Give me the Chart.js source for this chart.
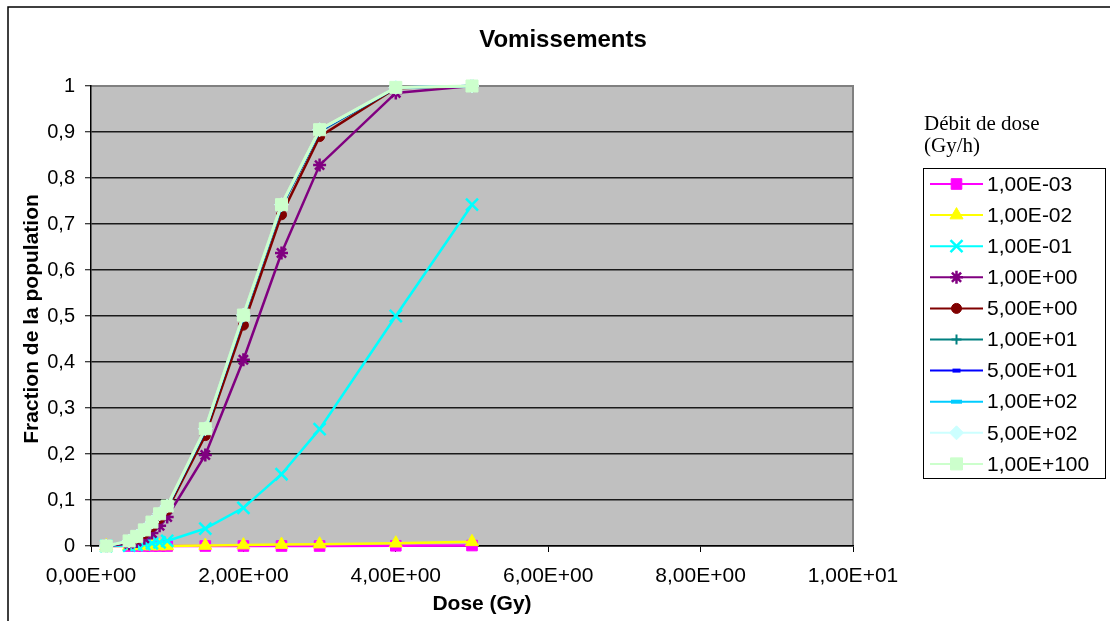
<!DOCTYPE html>
<html>
<head>
<meta charset="utf-8">
<title>Vomissements</title>
<script src="https://cdn.jsdelivr.net/npm/chart.js@4.4.1/dist/chart.umd.min.js"></script>
<style>
  html, body { margin: 0; padding: 0; background: #ffffff; }
  #wrap { width: 1110px; height: 621px; }
</style>
</head>
<body>
<div id="wrap"><canvas id="vomChart" width="1110" height="621"></canvas></div>
<script>
// Doses (Gy) shared by every dose-rate series
const doses = [0.2, 0.5, 0.6, 0.7, 0.8, 0.9, 1.0, 1.5, 2, 2.5, 3, 4, 5];

// Fraction of population with vomiting, one array per dose rate (Gy/h)
const rate1em3 = [0, 0, 0, 0, 0, 0, 0, 0, 0, 0, 0, 0.0005, 0.001];
const rate1em2 = [0, 0, 0, 0, 0, 0, 0, 0.001, 0.002, 0.003, 0.004, 0.006, 0.009];
const rate1em1 = [0, 0.001, 0.002, 0.004, 0.006, 0.008, 0.011, 0.038, 0.083, 0.156, 0.254, 0.5, 0.742];
const rate1e0 = [0, 0.005, 0.01, 0.017, 0.028, 0.044, 0.063, 0.198, 0.405, 0.637, 0.828, 0.985, 1.0];
const rate5e0 = [0, 0.008, 0.016, 0.027, 0.042, 0.06, 0.078, 0.24, 0.48, 0.72, 0.89, 0.995, 1.0];
const rate1e1 = [0, 0.01, 0.02, 0.033, 0.05, 0.067, 0.084, 0.251, 0.497, 0.737, 0.901, 0.996, 1.0];
const rate5e1 = [0, 0.01, 0.02, 0.034, 0.051, 0.068, 0.085, 0.253, 0.5, 0.74, 0.903, 0.997, 1.0];
const rate1e2 = [0, 0.011, 0.021, 0.034, 0.051, 0.069, 0.086, 0.254, 0.501, 0.741, 0.904, 0.997, 1.0];
const rate5e2 = [0, 0.011, 0.021, 0.035, 0.052, 0.07, 0.087, 0.255, 0.502, 0.742, 0.905, 0.997, 1.0];
const rate1e100 = [0, 0.011, 0.021, 0.035, 0.052, 0.07, 0.087, 0.255, 0.502, 0.742, 0.905, 0.997, 1.0];

const seriesLabels = ['1,00E-03', '1,00E-02', '1,00E-01', '1,00E+00', '5,00E+00',
                      '1,00E+01', '5,00E+01', '1,00E+02', '5,00E+02', '1,00E+100'];
const seriesValues = [rate1em3, rate1em2, rate1em1, rate1e0, rate5e0,
                      rate1e1, rate5e1, rate1e2, rate5e2, rate1e100];

// Look of each series: line colour, marker shape and marker size
const seriesStyles = [
    { color: '#ff00ff', fill: '#ff00ff', shape: 'rect',      r: 7.5, bw: 1 },
    { color: '#ffff00', fill: '#ffff00', shape: 'triangle',  r: 7.5, bw: 1 },
    { color: '#00ffff', fill: '#00ffff', shape: 'crossRot',  r: 8.5, bw: 2.5 },
    { color: '#800080', fill: '#800080', shape: 'star',      r: 6.5, bw: 2.5 },
    { color: '#800000', fill: '#800000', shape: 'circle',    r: 5,   bw: 1 },
    { color: '#008080', fill: '#008080', shape: 'cross',     r: 5,   bw: 2 },
    { color: '#0000ff', fill: '#0000ff', shape: 'line',      r: 4,   bw: 4 },
    { color: '#00ccff', fill: '#00ccff', shape: 'line',      r: 5.5, bw: 4 },
    { color: '#ccffff', fill: '#ccffff', shape: 'rectRot',   r: 7,   bw: 1 },
    { color: '#ccffcc', fill: '#ccffcc', shape: 'rect',      r: 8.5, bw: 1 }
];

const FONT = "'Liberation Sans', Arial, sans-serif";
const SERIF = "'Liberation Serif', 'Times New Roman', serif";

function sciLabel(v) {
    // 2 -> "2,00E+00"
    const parts = Number(v).toExponential(2).split('e');
    let exp = parseInt(parts[1], 10);
    const sign = exp < 0 ? '-' : '+';
    exp = Math.abs(exp);
    return parts[0].replace('.', ',') + 'E' + sign + (exp < 10 ? '0' + exp : exp);
}

const datasets = seriesValues.map((vals, i) => {
    const s = seriesStyles[i];
    return {
        label: seriesLabels[i],
        data: vals.map((y, k) => ({ x: doses[k], y: y })),
        showLine: true,
        borderColor: s.color,
        borderWidth: i === 9 ? 3 : 2.5,
        backgroundColor: s.fill,
        pointStyle: s.shape,
        pointRadius: s.r,
        pointHoverRadius: s.r,
        pointBorderColor: s.color,
        pointBackgroundColor: s.fill,
        pointBorderWidth: s.bw,
        tension: 0,
        clip: false,
        // later series sit on top
        order: seriesValues.length - 1 - i
    };
});

// Frame, plot background, titles and the side legend
const sheetFrame = {
    id: 'sheetFrame',
    beforeDraw(chart) {
        const ctx = chart.ctx;
        const a = chart.chartArea;
        ctx.save();
        ctx.fillStyle = '#ffffff';
        ctx.fillRect(0, 0, chart.width, chart.height);
        ctx.strokeStyle = '#000000';
        ctx.lineWidth = 1.5;
        ctx.strokeRect(8, 7, chart.width + 10, chart.height + 10);
        ctx.fillStyle = '#c0c0c0';
        ctx.fillRect(a.left, a.top, a.right - a.left, a.bottom - a.top);
        ctx.strokeStyle = '#808080';
        ctx.lineWidth = 2;
        ctx.beginPath();
        ctx.moveTo(a.left, a.top);
        ctx.lineTo(a.right, a.top);
        ctx.lineTo(a.right, a.bottom);
        ctx.stroke();
        ctx.restore();
    },
    afterDraw(chart) {
        const ctx = chart.ctx;
        ctx.save();
        ctx.fillStyle = '#000000';
        ctx.textAlign = 'center';
        ctx.textBaseline = 'middle';

        ctx.font = 'bold 24px ' + FONT;
        ctx.fillText('Vomissements', 563, 40);

        ctx.font = 'bold 21px ' + FONT;
        ctx.fillText('Dose (Gy)', 482, 604);

        ctx.save();
        ctx.translate(32, 319);
        ctx.rotate(-Math.PI / 2);
        ctx.fillText('Fraction de la population', 0, 0);
        ctx.restore();

        // legend title
        ctx.textAlign = 'left';
        ctx.textBaseline = 'alphabetic';
        ctx.font = '21px ' + SERIF;
        ctx.fillText('Débit de dose', 924, 130);
        ctx.fillText('(Gy/h)', 924, 152);

        // legend box
        ctx.strokeStyle = '#000000';
        ctx.lineWidth = 1;
        ctx.strokeRect(923.5, 168.5, 182, 310);

        ctx.font = '21px ' + FONT;
        ctx.textBaseline = 'middle';
        chart.data.datasets.forEach((ds, i) => {
            const y = 184 + i * 31.1;
            ctx.strokeStyle = ds.borderColor;
            ctx.lineWidth = 2;
            ctx.beginPath();
            ctx.moveTo(930, y);
            ctx.lineTo(983, y);
            ctx.stroke();
            ctx.fillStyle = ds.pointBackgroundColor;
            ctx.strokeStyle = ds.pointBorderColor;
            ctx.lineWidth = ds.pointBorderWidth;
            Chart.helpers.drawPoint(ctx, {
                pointStyle: ds.pointStyle,
                rotation: 0,
                radius: ds.pointRadius,
                borderWidth: ds.pointBorderWidth
            }, 956.5, y);
            ctx.fillStyle = '#000000';
            ctx.fillText(ds.label, 987, y + 1);
        });
        ctx.restore();
    }
};

new Chart(document.getElementById('vomChart'), {
    type: 'scatter',
    data: { datasets: datasets },
    options: {
        responsive: false,
        animation: false,
        events: [],
        layout: { padding: { left: 0, right: 257, top: 86, bottom: 0 } },
        plugins: {
            legend: { display: false },
            title: { display: false },
            tooltip: { enabled: false }
        },
        scales: {
            x: {
                type: 'linear',
                min: 0,
                max: 10,
                afterFit(scale) { scale.height = 75; },
                border: { display: true, color: '#000000', width: 1.5 },
                grid: {
                    color: 'rgba(0,0,0,0)',
                    tickColor: '#000000',
                    tickLength: 6,
                    tickWidth: 1
                },
                ticks: {
                    stepSize: 2,
                    maxRotation: 0,
                    color: '#000000',
                    padding: 12,
                    font: { family: FONT, size: 21 },
                    callback: (v) => sciLabel(v)
                }
            },
            y: {
                type: 'linear',
                min: 0,
                max: 1,
                afterFit(scale) { scale.width = 91; },
                border: { display: true, color: '#000000', width: 1.5 },
                grid: {
                    color: (c) => (c.tick && c.tick.value === 1 ? '#808080' : '#1a1a1a'),
                    lineWidth: 1.5,
                    tickColor: '#000000',
                    tickLength: 6,
                    tickWidth: 1
                },
                ticks: {
                    stepSize: 0.1,
                    color: '#000000',
                    padding: 10,
                    font: { family: FONT, size: 20 },
                    callback: (v) => String(Math.round(v * 10) / 10).replace('.', ',')
                }
            }
        }
    },
    plugins: [sheetFrame]
});
</script>
</body>
</html>
